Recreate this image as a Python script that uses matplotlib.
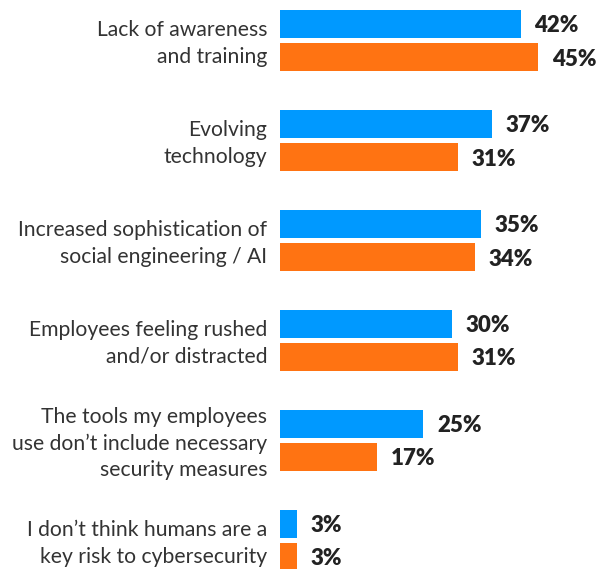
import matplotlib
matplotlib.use("Agg")
import matplotlib.pyplot as plt
import numpy as np

categories = [
    "Lack of awareness\nand training",
    "Evolving\ntechnology",
    "Increased sophistication of\nsocial engineering / AI",
    "Employees feeling rushed\nand/or distracted",
    "The tools my employees\nuse don\u2019t include necessary\nsecurity measures",
    "I don\u2019t think humans are a\nkey risk to cybersecurity",
]
blue_values = [42, 37, 35, 30, 25, 3]
orange_values = [45, 31, 34, 31, 17, 3]

BLUE = "#0099FF"
ORANGE = "#FF7312"
TEXT = "#333333"
VALUE_TEXT = "#222222"

plt.rcParams["font.family"] = ["Lato", "DejaVu Sans"]

fig = plt.figure(figsize=(5.99, 5.69), dpi=100)
ax = fig.add_axes([280 / 599, 0, 319 / 599, 1])

y = np.arange(len(categories))
bar_h = 0.28
offset = 0.165

ax.barh(y - offset, blue_values, height=bar_h, color=BLUE)
ax.barh(y + offset, orange_values, height=bar_h, color=ORANGE)

# value labels sit just right of each bar, nudged a touch below centre
for yi, b, o in zip(y, blue_values, orange_values):
    ax.text(b + 2.4, yi - offset + 0.02, f"{b}%", va="center", ha="left",
            fontsize=16, fontweight="heavy", color=VALUE_TEXT)
    ax.text(o + 2.4, yi + offset + 0.02, f"{o}%", va="center", ha="left",
            fontsize=16, fontweight="heavy", color=VALUE_TEXT)

for yi, label in zip(y, categories):
    ax.text(-2.2, yi + 0.03, label, va="center", ha="right", fontsize=15.2,
            color=TEXT, linespacing=1.42, clip_on=False)

ax.set_xlim(0, 319 / 5.73)
ax.set_ylim(5.285, -0.405)
ax.axis("off")

fig.savefig("out.png", dpi=100)
